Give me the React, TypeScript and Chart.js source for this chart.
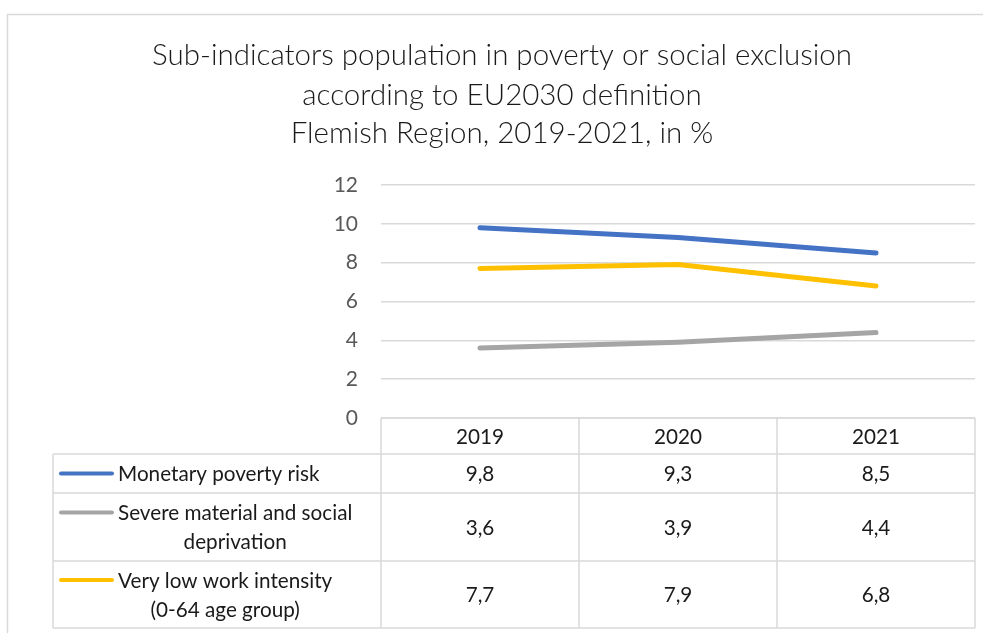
import React, { useEffect, useRef } from "react";
import { Chart, registerables } from "chart.js";

Chart.register(...registerables);

const titleLines = [
  "Sub-indicators population in poverty or social exclusion",
  "according to EU2030 definition",
  "Flemish Region, 2019-2021, in %",
];
const years = ["2019", "2020", "2021"];
const monetaryPovertyRisk = [9.8, 9.3, 8.5];
const severeDeprivation = [3.6, 3.9, 4.4];
const veryLowWorkIntensity = [7.7, 7.9, 6.8];
const seriesLabelLines = [
  ["Monetary poverty risk"],
  ["Severe material and social", "deprivation"],
  ["Very low work intensity", "(0-64 age group)"],
];
const seriesColors = ["#4472C4", "#A5A5A5", "#FFC000"];
const yTicks = [0, 2, 4, 6, 8, 10, 12];

const FONT = "Lato, 'Open Sans', sans-serif";
const GRID = "#d9d9d9";
const TEXT = "#1a1a1a";

const fmt = (v: number) => v.toFixed(1).replace(".", ",");

const framePlugin = {
  id: "frame",
  beforeDraw(chart: any) {
    const ctx = chart.ctx;
    ctx.save();
    ctx.fillStyle = "#ffffff";
    ctx.fillRect(0, 0, chart.width, chart.height);
    ctx.strokeStyle = GRID;
    ctx.lineWidth = 1.5;
    ctx.strokeRect(7.5, 14.5, chart.width + 10, chart.height + 10);
    // title (centred on the full chart frame, which runs past the right edge)
    ctx.fillStyle = TEXT;
    ctx.font = `300 29.5px ${FONT}`;
    ctx.textAlign = "center";
    ctx.textBaseline = "middle";
    const cx = 502;
    const ys = [55, 95, 133];
    titleLines.forEach((t, i) => ctx.fillText(t, cx, ys[i]));
    ctx.restore();
  },
};

const tablePlugin = {
  id: "dataTable",
  afterDraw(chart: any) {
    const ctx = chart.ctx;
    const xs = chart.scales.x;
    const area = chart.chartArea;
    const tableLeft = 53;
    const rowEdges = [area.bottom, area.bottom + 36, area.bottom + 75, area.bottom + 143, area.bottom + 210];
    const n = years.length;
    const centers = years.map((_, i) => xs.getPixelForValue(i));
    const bounds: number[] = [area.left];
    for (let i = 0; i < n - 1; i++) bounds.push((centers[i] + centers[i + 1]) / 2);
    bounds.push(area.right);

    ctx.save();
    ctx.strokeStyle = GRID;
    ctx.lineWidth = 1.5;
    ctx.beginPath();
    bounds.forEach((b) => {
      ctx.moveTo(b, rowEdges[0]);
      ctx.lineTo(b, rowEdges[4]);
    });
    ctx.moveTo(tableLeft, rowEdges[1]);
    ctx.lineTo(tableLeft, rowEdges[4]);
    ctx.moveTo(area.left, rowEdges[0]);
    ctx.lineTo(area.right, rowEdges[0]);
    for (let r = 1; r < rowEdges.length; r++) {
      ctx.moveTo(tableLeft, rowEdges[r]);
      ctx.lineTo(area.right, rowEdges[r]);
    }
    ctx.stroke();

    ctx.fillStyle = TEXT;
    ctx.font = `20.7px ${FONT}`;
    ctx.textAlign = "center";
    ctx.textBaseline = "middle";
    years.forEach((y, i) => ctx.fillText(y, centers[i], (rowEdges[0] + rowEdges[1]) / 2 + 1));

    chart.data.datasets.forEach((ds: any, r: number) => {
      const top = rowEdges[r + 1];
      const bottom = rowEdges[r + 2];
      const mid = (top + bottom) / 2;
      ds.data.forEach((v: number, i: number) => ctx.fillText(fmt(v), centers[i], mid + 1));
      const lines = seriesLabelLines[r];
      const lineH = 29;
      const firstY = mid - ((lines.length - 1) * lineH) / 2;
      ctx.strokeStyle = ds.borderColor;
      ctx.lineWidth = 4;
      ctx.lineCap = "round";
      ctx.beginPath();
      ctx.moveTo(61, firstY);
      ctx.lineTo(112, firstY);
      ctx.stroke();
      const widths = lines.map((l: string) => ctx.measureText(l).width);
      const maxW = Math.max(...widths);
      const cx = 118 + maxW / 2;
      lines.forEach((l: string, k: number) => ctx.fillText(l, cx, firstY + k * lineH + 1));
    });
    ctx.restore();
  },
};

export default function App() {
  const ref = useRef<HTMLCanvasElement | null>(null);
  useEffect(() => {
    if (!ref.current) return;
    const chart = new Chart(ref.current, {
      type: "line",
      data: {
        labels: years,
        datasets: [monetaryPovertyRisk, severeDeprivation, veryLowWorkIntensity].map((d, i) => ({
          label: seriesLabelLines[i].join(" "),
          data: d,
          borderColor: seriesColors[i],
          backgroundColor: seriesColors[i],
          borderWidth: 5,
          borderCapStyle: "round" as const,
          borderJoinStyle: "round" as const,
          pointRadius: 0,
          tension: 0,
        })),
      },
      options: {
        animation: false,
        responsive: false,
        devicePixelRatio: 1,
        layout: { padding: { left: 0, right: 8, top: 185, bottom: 215 } },
        plugins: {
          legend: { display: false },
          tooltip: { enabled: false },
          title: { display: false },
        },
        scales: {
          x: { type: "category", display: false, offset: true },
          y: {
            min: 0,
            max: 12,
            afterBuildTicks(scale: any) {
              scale.ticks = yTicks.map((v) => ({ value: v }));
            },
            afterFit(scale: any) {
              scale.width = 381;
            },
            border: { display: false },
            grid: { color: GRID, lineWidth: 1.5, drawTicks: false },
            ticks: { color: "#595959", padding: 23, font: { family: FONT, size: 21 } },
          },
        },
      },
      plugins: [framePlugin, tablePlugin],
    });
    return () => chart.destroy();
  }, []);
  return (
    <div style={{ position: "fixed", left: 0, top: 0, width: 983, height: 633 }}>
      <canvas ref={ref} width={983} height={633} />
    </div>
  );
}
